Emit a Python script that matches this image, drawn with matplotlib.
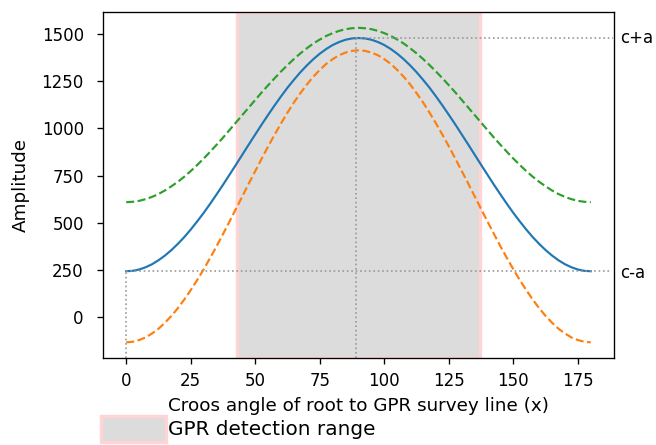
import numpy as np
import matplotlib
matplotlib.use('Agg')
import matplotlib.pyplot as plt

# angle of root to survey line (deg), sampled every 2.5 deg
angle = [i * 2.5 for i in range(73)]

# values (rising half, 0..90), mirrored for 92.5..180
blue_half = [243, 245, 252, 264, 280, 301, 326, 355, 388, 424, 464, 507,
             552, 600, 650, 701, 754, 807, 861, 915, 968, 1021, 1072, 1122,
             1170, 1216, 1258, 1298, 1334, 1367, 1396, 1421, 1442, 1458,
             1470, 1477, 1479]
green_half = [609, 611, 616, 625, 637, 652, 671, 693, 717, 744, 774, 806,
              840, 876, 913, 951, 991, 1031, 1071, 1111, 1151, 1191, 1229,
              1266, 1302, 1336, 1368, 1398, 1425, 1450, 1471, 1490, 1505,
              1517, 1526, 1531, 1533]
orange_half = [-134, -131, -122, -108, -87, -62, -30, 6, 47, 93, 143, 196,
               253, 313, 375, 440, 506, 573, 640, 708, 774, 840, 905, 967,
               1027, 1084, 1138, 1187, 1233, 1274, 1310, 1342, 1367, 1388,
               1402, 1411, 1414]

amp_mid = blue_half + blue_half[-2::-1]
amp_upper = green_half + green_half[-2::-1]
amp_lower = orange_half + orange_half[-2::-1]

range_start, range_end = 43, 137
peak_angle = 89
xlabel = 'Croos angle of root to GPR survey line (x)'
ylabel = 'Amplitude'
legend_label = 'GPR detection range'

fig = plt.figure(figsize=(656 / 120, 445 / 120), dpi=120)
ax = fig.add_axes([103 / 656, 1 - 358 / 445, 511 / 656, 346 / 445])

x = np.array(angle)
ax.plot(x, amp_mid, color='C0', lw=1.3)
ax.plot(x, amp_lower, color='C1', linestyle='--', lw=1.3)
ax.plot(x, amp_upper, color='C2', linestyle='--', lw=1.3)

span = ax.axvspan(range_start, range_end, facecolor='#dcdcdc',
                  edgecolor='#ffd4d4', linewidth=2, zorder=0)

ax.set_xlim(-9, 189)
ax.set_ylim(-217, 1617)

c_max = max(amp_mid)
c_min = min(amp_mid)
dot = dict(colors='#999999', linestyles=':', linewidth=1)
ax.hlines(c_max, peak_angle, 188.5, **dot)
ax.hlines(c_min, 0, 188, **dot)
ax.vlines(0, -217, c_min, **dot)
ax.vlines(peak_angle, -217, c_max, **dot)

ax.text(191.5, c_max, 'c+a', va='center', ha='left', fontsize=10)
ax.text(191.5, c_min - 10, 'c-a', va='center', ha='left', fontsize=10)

ax.set_xticks([0, 25, 50, 75, 100, 125, 150, 175])
ax.set_yticks([0, 250, 500, 750, 1000, 1250, 1500])
ax.tick_params(axis='y', pad=8)
ax.tick_params(axis='x', pad=5)
ax.set_xlabel(xlabel, fontsize=11, labelpad=4)
ax.set_ylabel(ylabel, fontsize=11, labelpad=7)

fig.legend([span], [legend_label], loc='upper left',
           bbox_to_anchor=(101 / 656, 1 - 416 / 445),
           frameon=False, borderpad=0, borderaxespad=0, handlelength=3.25,
           handleheight=1.6, handletextpad=0.1, fontsize=12)

fig.savefig('out.png', dpi=120)
